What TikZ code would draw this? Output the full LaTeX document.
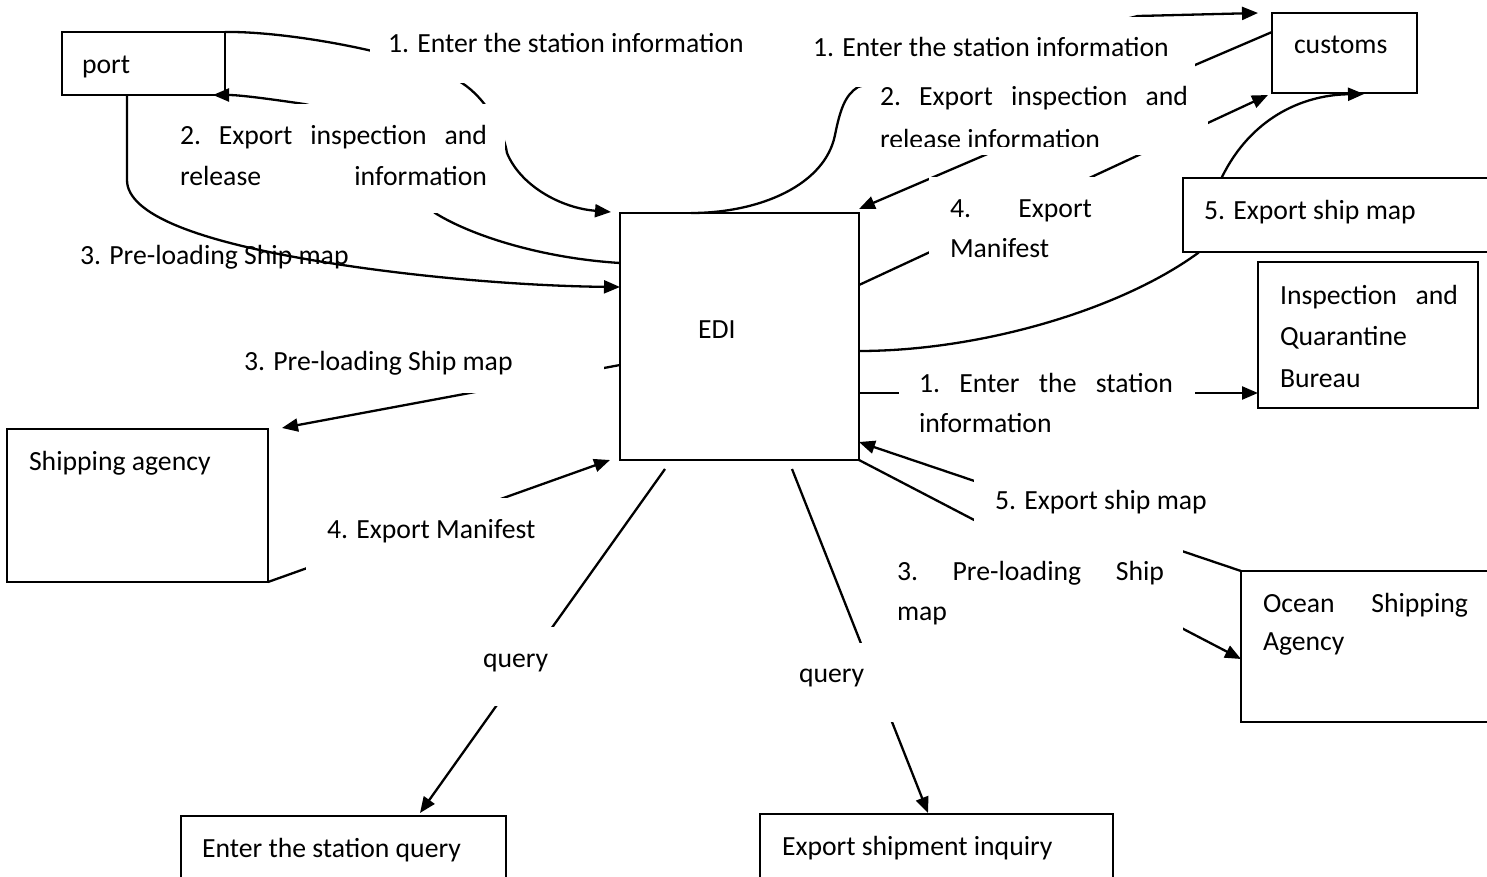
\documentclass[tikz,border=0pt]{standalone}
\usepackage{fontspec}
\setmainfont{Carlito}
\usetikzlibrary{arrows.meta,calc}
\begin{document}
\begin{tikzpicture}[x=1pt,y=-1pt,
  every node/.style={font=\fontsize{27.7}{41}\selectfont, inner sep=0pt, outer sep=0pt},
  box/.style={draw, line width=2.2pt, fill=white},
  txt/.style={anchor=base west},
  conn/.style={line width=2.3pt},
  arr/.style={conn, -{Triangle[length=16pt,width=13pt]}},
  cover/.style={fill=white}]
\useasboundingbox[fill=white] (0,0) rectangle (1487,877);

% entity boxes
\node[box, minimum width=163pt, minimum height=63pt] (port) at (143.5,63.5) {};
\node[box, minimum width=239pt, minimum height=247pt] (EDI) at (739.5,336.5) {};
\node[box, minimum width=145pt, minimum height=80pt] (customs) at (1344.5,53) {};
\node[box, minimum width=220pt, minimum height=146pt] (insp) at (1368,335) {};
\node[box, minimum width=261pt, minimum height=153pt] (ship) at (137.5,505.5) {};
\node[box, minimum width=259pt, minimum height=151pt] (ocean) at (1370.5,646.5) {};
\node[box, minimum width=325pt, minimum height=84pt] (esq) at (343.5,858) {};
\node[box, minimum width=353pt, minimum height=86pt] (esi) at (936.5,857) {};

% label drawn under its connector
\node[txt] (lc) at (80,265) {3. Pre-loading Ship map};

% connectors
\draw[arr] (port.north east) .. controls (290,31) and (420,55) .. (462,83)
  .. controls (485,98) and (503,128) .. (507,153)
  .. controls (520,185) and (560,208) .. ($(EDI.north west)+(-9,-1)$);
\draw[arr] ($(EDI.north west)+(0,50)$) .. controls (540,258) and (470,235) .. (435,213)
  .. controls (380,160) and (340,110) .. (304,104)
  .. controls (270,99) and (240,95) .. ($(port.south east)+(-12,0)$);
\draw[arr] ($(port.south west)+(65,0)$) -- (127,180) .. controls (127,215) and (200,240) .. (300,258)
  .. controls (400,276) and (520,286) .. ($(EDI.north west)+(0,74)$);
\draw[arr] ($(EDI.north west)+(0,152)$) -- ($(ship.north east)+(14,-1)$);
\draw[arr] (ship.south east) -- ($(EDI.south west)+(-10,0)$);
\draw[arr] ($(EDI.south west)+(45,9)$) -- ($(esq.north west)+(239,-3)$);
\draw[arr] ($(EDI.south west)+(172,9)$) -- ($(esi.north west)+(168,-1)$);
\draw[arr] ($(EDI.north west)+(71,0)$) .. controls (760,213) and (825,185) .. (835,135)
  .. controls (840,110) and (845,95) .. (858,87)
  .. controls (950,60) and (1080,30) .. (1138,16) -- ($(customs.north west)+(-14,0)$);
\draw[arr] ($(customs.north west)+(0,19)$) -- ($(EDI.north east)+(0,-4)$);
\draw[arr] ($(EDI.north east)+(0,72)$) -- ($(customs.south west)+(-4,2)$);
\draw[arr] ($(EDI.north east)+(0,138)$) .. controls (980,351) and (1120,310) .. (1198,253)
  .. controls (1215,240) and (1212,197) .. (1222,177)
  .. controls (1250,120) and (1300,95) .. ($(customs.south west)+(92,1)$);
\draw[arr] ($(EDI.north east)+(0,180)$) -- ($(insp.north west)+(0,131)$);
\draw[arr] (ocean.north west) -- ($(EDI.south east)+(0,-18)$);
\draw[arr] (EDI.south east) -- ($(ocean.north west)+(0,88)$);

% white label areas hiding parts of the connectors
\path[cover] (370,15) rectangle (760,83);
\path[cover] (170,104) rectangle (505,213);
\path[cover] (235,330) rectangle (604,393);
\path[cover] (306,498) rectangle (565,580);
\path[cover] (460,627) rectangle (580,706);
\path[cover] (790,643) rectangle (905,722);
\path[cover] (803,17) rectangle (1195,87);
\path[cover] (870,72) rectangle (1208,155);
\path[cover] (929,177) rectangle (1100,290);
\path[cover] (899,360) rectangle (1195,445);
\path[cover] (974,470) rectangle (1183,560);
\path[cover] (885,545) rectangle (1183,645);

% bordered label box over connector 5
\node[box, minimum width=317pt, minimum height=74pt] (mapbox) at (1341.5,215) {};

% box texts
\node[txt] (tport) at (82,74) {port};
\node[txt] (tedi) at (698,338) {EDI};
\node[txt] (tcust) at (1294,54) {customs};
\node[txt] (tinsp1) at (1280,304) {\makebox[178pt][l]{Inspection\hfill and}};
\node[txt] (tinsp2) at (1280,345) {Quarantine};
\node[txt] (tinsp3) at (1280,387) {Bureau};
\node[txt] (tship) at (29,470) {Shipping agency};
\node[txt] (tocean1) at (1263,612) {\makebox[205pt][l]{Ocean\hfill Shipping}};
\node[txt] (tocean2) at (1263,650) {Agency};
\node[txt] (tesq) at (202,857) {Enter the station query};
\node[txt] (tesi) at (782,855) {Export shipment inquiry};
\node[txt] (tmap) at (1204,220) {5. Export ship map};

% connector labels
\node[txt] (la1) at (388,53) {1. Enter the station information};
\node[txt] (la2a) at (180,145) {\makebox[307pt][l]{2.\hfill Export\hfill inspection\hfill and}};
\node[txt] (la2b) at (180,186) {\makebox[307pt][l]{release\hfill information}};
\node[txt] (ld) at (244,370) {3. Pre-loading Ship map};
\node[txt] (le) at (327,538) {4. Export Manifest};
\node[txt] (lf) at (483,667) {query};
\node[txt] (lg) at (799,682) {query};
\node[txt] (lh) at (813,57) {1. Enter the station information};
\node[txt] (l2a) at (880,106) {\makebox[308pt][l]{2.\hfill Export\hfill inspection\hfill and}};
\begin{scope}
\clip (860,110) rectangle (1210,147);
\node[txt] (l2b) at (880,149) {release information};
\end{scope}
\node[txt] (l4a) at (950,218) {\makebox[142pt][l]{4.\hfill Export}};
\node[txt] (l4b) at (950,258) {Manifest};
\node[txt] (li1) at (919,392) {\makebox[254pt][l]{1.\hfill Enter\hfill the\hfill station}};
\node[txt] (li2) at (919,432) {information};
\node[txt] (lj) at (995,509) {5. Export ship map};
\node[txt] (lk1) at (897,580) {\makebox[267pt][l]{3.\hfill Pre-loading\hfill Ship}};
\node[txt] (lk2) at (897,620) {map};
\end{tikzpicture}
\end{document}
